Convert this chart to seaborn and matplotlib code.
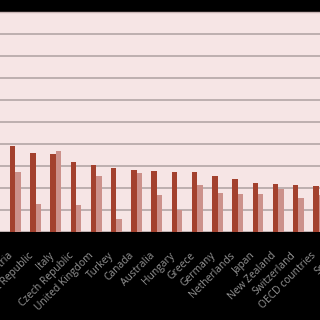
import matplotlib
matplotlib.use("Agg")
import matplotlib.pyplot as plt
import seaborn as sns
import pandas as pd
import numpy as np
from matplotlib.ticker import FixedLocator

categories = ["Poland", "Austria", "Slovak Republic", "Italy", "Czech Republic",
              "United Kingdom", "Turkey", "Canada", "Australia", "Hungary",
              "Greece", "Germany", "Netherlands", "Japan", "New Zealand",
              "Switzerland", "OECD countries", "Spain"]
series_a = [20.9, 19.5, 18.0, 17.7, 15.8, 15.2, 14.5, 14.2, 13.9, 13.6,
            13.6, 12.8, 12.1, 11.1, 10.8, 10.6, 10.5, 10.2]
series_b = [14.5, 13.7, 6.4, 18.5, 6.2, 12.8, 3.0, 13.3, 8.3, 5.0,
            10.6, 8.9, 8.7, 8.7, 9.8, 7.8, 8.3, 7.0]
series_names = ["Series A", "Series B"]

df = pd.DataFrame({
    "country": categories * 2,
    "value": series_a + series_b,
    "series": [series_names[0]] * len(categories) + [series_names[1]] * len(categories),
})

sns.set_style("white")
plt.rcParams['font.family'] = ['Open Sans', 'DejaVu Sans']

fig = plt.figure(figsize=(3.2, 3.2), dpi=100, facecolor="black")
ax = fig.add_axes([-40 / 320, 88 / 320, 400 / 320, 220 / 320])
ax.set_facecolor("#f6e5e5")

sns.barplot(data=df, x="country", y="value", hue="series", order=categories,
            hue_order=series_names, palette=["#a3412e", "#cc918b"],
            width=0.53, gap=0, legend=False, ax=ax, saturation=1,
            linewidth=0, edgecolor="none")

ax.set_xlim(-1.735, 18.047)
ax.set_ylim(0, 50)
ax.set_yticks(np.arange(0, 51, 5))
ax.yaxis.grid(True, color="#ada0a0", linewidth=1.1)
ax.set_axisbelow(True)
ax.set_ylabel("")
ax.set_xlabel("")
ax.tick_params(axis="y", left=False, labelleft=False)

ax.tick_params(axis="x", which="major", length=0, pad=13, labelsize=7.4,
               labelcolor="#959595")
ax.xaxis.set_minor_locator(FixedLocator(np.arange(-0.5, len(categories), 1)))
ax.tick_params(axis="x", which="minor", length=3, width=0.8, color="#bbbbbb",
               direction="out")
for lab in ax.get_xticklabels():
    lab.set_rotation(45)
    lab.set_ha("right")

for s in ["left", "right", "bottom"]:
    ax.spines[s].set_visible(False)
ax.spines["top"].set_color("#c9b5b5")
ax.spines["top"].set_linewidth(1.0)

fig.savefig("out.png", dpi=100, facecolor="black")
